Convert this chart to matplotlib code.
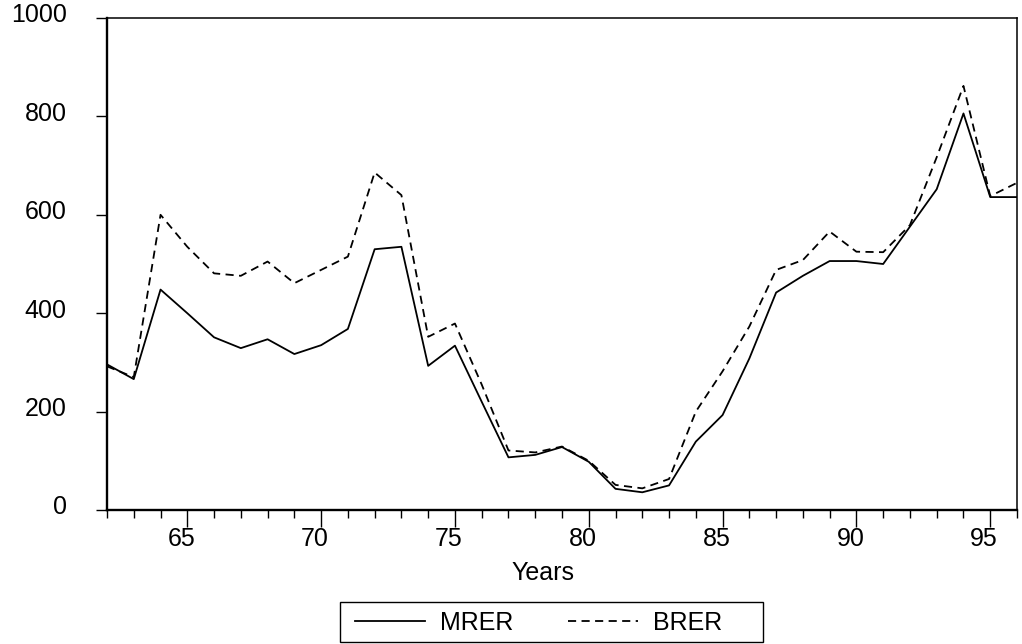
import matplotlib
matplotlib.use("Agg")
import matplotlib.pyplot as plt
import matplotlib.transforms as mtransforms
from matplotlib.patches import Rectangle
from matplotlib.ticker import MultipleLocator

plt.rcParams['font.family'] = ['Liberation Sans', 'DejaVu Sans']

years = list(range(62, 97))
mrer = [296, 266, 448, 400, 351, 329, 347, 317, 335, 368, 530, 535,
        293, 334, 220, 107, 112, 128, 98, 43, 36, 50, 139, 193,
        308, 442, 476, 506, 506, 500, 576, 652, 806, 636, 636]
brer = [292, 270, 600, 535, 481, 476, 505, 461, 488, 515, 686, 640,
        352, 379, 255, 121, 117, 129, 100, 51, 44, 63, 200, 282,
        373, 488, 508, 566, 525, 524, 579, 717, 862, 638, 665]
yticks = [0, 200, 400, 600, 800, 1000]
xticks = [65, 70, 75, 80, 85, 90, 95]

W, H = 1022, 644
fig = plt.figure(figsize=(W / 100, H / 100), dpi=100)
ax = fig.add_axes([107 / W, 1 - 510 / H, (1017 - 107) / W, (510 - 18) / H])

dash = (0, (4.5, 3))
ax.plot(years, mrer, color='black', lw=1.3, label='MRER')
ax.plot(years, brer, color='black', lw=1.3, ls=dash, label='BRER')

ax.set_xlim(62, 96)
ax.set_ylim(0, 1000)
ax.set_yticks(yticks)
ax.set_xticks(xticks)
ax.xaxis.set_minor_locator(MultipleLocator(1))
ax.tick_params(axis='y', which='major', direction='out', length=8, width=1.0,
               labelsize=18, pad=21)
ax.tick_params(axis='x', which='major', direction='out', length=12, width=1.0,
               labelsize=18, pad=0)
ax.tick_params(axis='x', which='minor', direction='out', length=6, width=1.0)
for s in ax.spines.values():
    s.set_linewidth(1.1)
ax.spines['left'].set_linewidth(1.7)
ax.spines['bottom'].set_linewidth(1.7)

# small offsets of tick labels as in the reference
xoff = mtransforms.ScaledTranslation(-6 / 100, 0, fig.dpi_scale_trans)
for lbl in ax.get_xticklabels():
    lbl.set_transform(lbl.get_transform() + xoff)
yoff = mtransforms.ScaledTranslation(0, 5 / 100, fig.dpi_scale_trans)
for lbl in ax.get_yticklabels():
    lbl.set_transform(lbl.get_transform() + yoff)

ax.set_xlabel('Years', fontsize=18)
ax.xaxis.set_label_coords((543 - 107) / 910, -(561 - 510) / 492)

# legend box
fig.patches.append(Rectangle((340 / W, 1 - 642 / H), (763 - 340) / W, 40 / H,
                             transform=fig.transFigure, fill=False,
                             edgecolor='black', linewidth=1.0))
leg = fig.legend(loc='center left', bbox_to_anchor=(340 / W, 1 - 623 / H),
                 ncol=2, fontsize=18, frameon=False,
                 handlelength=2.8, handletextpad=0.6, columnspacing=2.2,
                 borderpad=0.0, borderaxespad=0.6)

fig.savefig('out.png', dpi=100, facecolor='white')
